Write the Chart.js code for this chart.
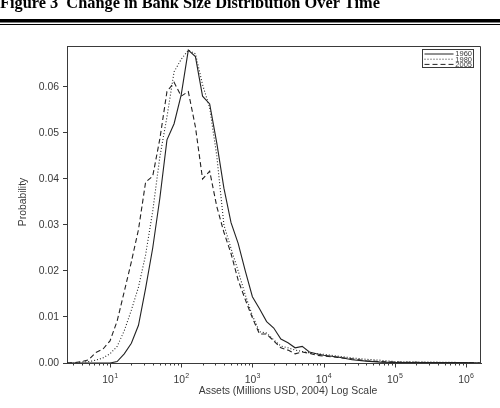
<!DOCTYPE html>
<html lang="en">
<head>
<meta charset="UTF-8" />
<title>Change in Bank Size Distribution Over Time</title>
<script src="https://cdn.jsdelivr.net/npm/chart.js@4.4.1/dist/chart.umd.min.js"></script>
<style>
  html, body { margin: 0; padding: 0; background: #fff; }
  canvas { display: block; }
</style>
</head>
<body>
<canvas id="sizeChart" width="500" height="408"></canvas>
<script>
// x = log10 of assets (millions USD, 2004)
const logAssets = [0.4, 0.5, 0.6, 0.7, 0.8, 0.9, 1.0, 1.1, 1.2, 1.3, 1.4, 1.5, 1.6, 1.7, 1.8, 1.9,
  2.0, 2.1, 2.2, 2.3, 2.4, 2.5, 2.6, 2.7, 2.8, 2.9, 3.0, 3.1, 3.2, 3.3, 3.4, 3.5, 3.6, 3.7, 3.8, 3.9,
  4.0, 4.2, 4.4, 4.6, 4.8, 5.0, 5.5, 6.0, 6.2];

const prob1960 = [0, 0, 0, 0, 0, 0, 0, 0.0003, 0.002, 0.0043, 0.0082, 0.0162, 0.025, 0.0358, 0.0485, 0.052,
  0.0583, 0.068, 0.0666, 0.058, 0.0563, 0.0478, 0.038, 0.0305, 0.026, 0.020, 0.0144, 0.0118, 0.009, 0.0076, 0.0052, 0.0044, 0.0033, 0.0036, 0.0024, 0.002,
  0.0017, 0.0013, 0.0007, 0.0004, 0.0002, 0.0001, 0.0001, 0.0001, 0];

const prob1980 = [0, 0, 0.0002, 0.0003, 0.0006, 0.0011, 0.002, 0.0036, 0.007, 0.0115, 0.0165, 0.0235, 0.033, 0.0448, 0.0535, 0.0633,
  0.066, 0.068, 0.0672, 0.0605, 0.0555, 0.045, 0.030, 0.0249, 0.020, 0.0148, 0.0103, 0.0068, 0.0065, 0.005, 0.0037, 0.0033, 0.0028, 0.0025, 0.0022, 0.002,
  0.0019, 0.0015, 0.0011, 0.0008, 0.0006, 0.0003, 0.0002, 0.0001, 0];

const prob2005 = [0, 0.0001, 0.0003, 0.0007, 0.0023, 0.003, 0.0048, 0.0091, 0.0155, 0.022, 0.029, 0.0393, 0.0406, 0.0487, 0.059, 0.061,
  0.058, 0.059, 0.0513, 0.040, 0.0417, 0.034, 0.0284, 0.0238, 0.018, 0.0138, 0.0098, 0.0063, 0.0063, 0.0048, 0.0033, 0.0028, 0.002, 0.0024, 0.0021, 0.0017,
  0.0015, 0.0012, 0.0009, 0.0005, 0.0003, 0.0002, 0.0001, 0.0001, 0];

const probTicks = [0, 0.01, 0.02, 0.03, 0.04, 0.05, 0.06];
const decadeTicks = [1, 2, 3, 4, 5, 6];
const legendLabels = ['1960', '1980', '2005'];
const lineDashes = [[], [1, 2], [5, 3]];

const ink = '#222';
const axisInk = '#3a3a3a';
const sans = '"Liberation Sans", Arial, sans-serif';
const tickFont = '10.4px ' + sans;

function toPoints(values) {
  return logAssets.map((lx, i) => ({ x: lx, y: values[i] }));
}

const figurePlugin = {
  id: 'figure',
  beforeDraw(chart) {
    const ctx = chart.ctx;
    ctx.save();
    ctx.fillStyle = '#fff';
    ctx.fillRect(0, 0, chart.width, chart.height);
    // page heading (top half is cut off in the scan)
    const heading = 'Figure 3  Change in Bank Size Distribution Over Time';
    ctx.font = 'bold 15px "Liberation Serif", "Times New Roman", serif';
    const size = 15 * 380 / ctx.measureText(heading).width;
    ctx.font = 'bold ' + size.toFixed(2) + 'px "Liberation Serif", "Times New Roman", serif';
    ctx.fillStyle = '#000';
    ctx.textBaseline = 'alphabetic';
    ctx.fillText(heading, 0, 7.5);
    ctx.fillRect(0, 19, chart.width, 3.5);
    ctx.fillRect(0, 24, chart.width, 1);
    ctx.restore();
  },
  afterDraw(chart) {
    const ctx = chart.ctx;
    const area = chart.chartArea;
    const xs = chart.scales.x;
    ctx.save();

    // top and right edges of the box
    ctx.strokeStyle = axisInk;
    ctx.lineWidth = 1;
    ctx.beginPath();
    ctx.moveTo(area.left, area.top + 0.5);
    ctx.lineTo(area.right - 0.5, area.top + 0.5);
    ctx.lineTo(area.right - 0.5, area.bottom);
    ctx.stroke();

    // log ticks on the x axis
    ctx.beginPath();
    for (let d = 0; d <= 6; d++) {
      for (let k = 1; k <= 9; k++) {
        const v = d + Math.log10(k);
        if (v < xs.min || v > xs.max) continue;
        const px = Math.round(xs.getPixelForValue(v)) + 0.5;
        ctx.moveTo(px, area.bottom);
        ctx.lineTo(px, area.bottom + (k === 1 ? 4.5 : 2.5));
      }
    }
    ctx.stroke();

    // decade labels 10^n
    ctx.fillStyle = axisInk;
    ctx.textBaseline = 'alphabetic';
    ctx.textAlign = 'left';
    decadeTicks.forEach(n => {
      const px = xs.getPixelForValue(n);
      ctx.font = tickFont;
      const wBase = ctx.measureText('10').width;
      ctx.font = '7px ' + sans;
      const wExp = ctx.measureText(String(n)).width;
      const start = px - (wBase + wExp) / 2;
      ctx.font = tickFont;
      ctx.fillText('10', start, 383);
      ctx.font = '7px ' + sans;
      ctx.fillText(String(n), start + wBase + 0.3, 377.5);
    });

    // axis titles
    ctx.font = tickFont;
    ctx.textAlign = 'center';
    ctx.textBaseline = 'middle';
    ctx.fillText('Assets (Millions USD, 2004) Log Scale', 288, 391);
    ctx.translate(23, 202);
    ctx.rotate(-Math.PI / 2);
    ctx.fillText('Probability', 0, 0);
    ctx.setTransform(1, 0, 0, 1, 0, 0);

    // legend box
    const bx = area.right - 58.5, by = area.top + 3.5;
    ctx.strokeStyle = axisInk;
    ctx.strokeRect(bx, by, 51, 18);
    ctx.font = '7.5px ' + sans;
    ctx.textAlign = 'right';
    ctx.textBaseline = 'middle';
    legendLabels.forEach((label, i) => {
      const y = by + 4 + i * 5.2;
      ctx.setLineDash(lineDashes[i]);
      ctx.strokeStyle = ink;
      ctx.beginPath();
      ctx.moveTo(bx + 2, y + 0.5);
      ctx.lineTo(bx + 31, y + 0.5);
      ctx.stroke();
      ctx.setLineDash([]);
      ctx.fillText(label, bx + 49.5, y + 0.8);
    });
    ctx.restore();
  }
};

new Chart(document.getElementById('sizeChart'), {
  type: 'line',
  data: {
    datasets: [
      { label: legendLabels[0], data: toPoints(prob1960), borderDash: lineDashes[0] },
      { label: legendLabels[1], data: toPoints(prob1980), borderDash: lineDashes[1] },
      { label: legendLabels[2], data: toPoints(prob2005), borderDash: lineDashes[2] }
    ].map(ds => Object.assign(ds, {
      borderColor: ink,
      borderWidth: 1.1,
      pointRadius: 0,
      tension: 0,
      fill: false
    }))
  },
  options: {
    responsive: false,
    animation: false,
    layout: { padding: { top: 46, right: 19, left: 0, bottom: 0 } },
    plugins: {
      legend: { display: false },
      tooltip: { enabled: false }
    },
    scales: {
      x: {
        type: 'linear',
        min: 0.396,
        max: 6.211,
        grid: { display: false },
        border: { display: true, color: axisInk, width: 1 },
        ticks: { display: false },
        afterBuildTicks: scale => { scale.ticks = []; },
        afterFit: scale => { scale.height = 45; }
      },
      y: {
        min: 0,
        max: 0.0689,
        grid: { display: true, drawOnChartArea: false, drawTicks: true, tickLength: 4, color: axisInk },
        border: { display: true, color: axisInk, width: 1 },
        ticks: {
          color: axisInk,
          font: { family: sans, size: 10.4 },
          padding: 4,
          callback: v => v.toFixed(2)
        },
        afterBuildTicks: scale => { scale.ticks = probTicks.map(v => ({ value: v })); },
        afterFit: scale => { scale.width = 67; }
      }
    }
  },
  plugins: [figurePlugin]
});
</script>
</body>
</html>
